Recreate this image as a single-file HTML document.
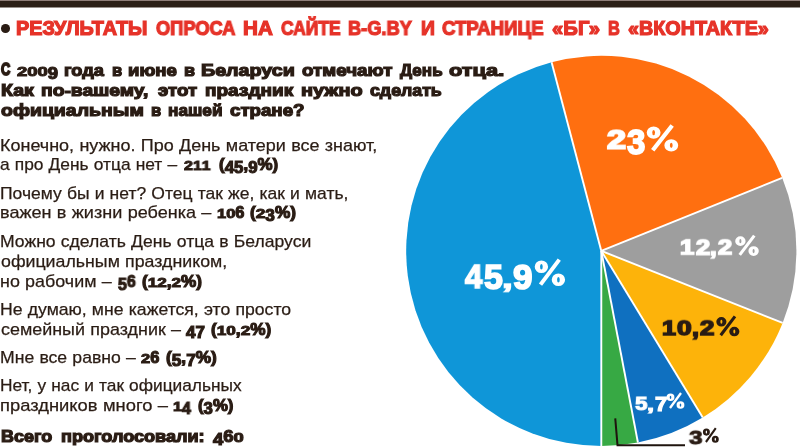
<!DOCTYPE html>
<html><head><meta charset="utf-8"><title>chart</title>
<style>
html,body{margin:0;padding:0;background:#fff;}
body{width:800px;height:447px;position:relative;overflow:hidden;font-family:"Liberation Sans",sans-serif;}
.bar{position:absolute;left:0;top:0;width:800px;height:8px;background:linear-gradient(to bottom,#8f7f7a 0,#8f7f7a 1px,#2c2118 1px,#2c2118 7px,#96908b 7px,#96908b 8px);}
.dot{position:absolute;left:1px;top:24.2px;width:8.8px;height:8.6px;border-radius:50%;background:#2a1c14;}
.pie{position:absolute;left:0;top:0;}
.t{position:absolute;white-space:nowrap;line-height:1;transform-origin:0 50%;will-change:transform;}
.t.g{transform-origin:0 0;}
.t i{font-style:normal;display:inline-block;transform-origin:50% 84.65%;}
.t i.ox{transform:scaleY(0.80);}
.t i.od{transform:translateY(0.17em) scaleY(0.97);}
</style></head><body>
<div class="bar"></div><div class="dot"></div>
<svg class="pie" width="800" height="447" viewBox="0 0 800 447"><path d="M601.3,250.9 L551.59,62.24 A195.1,195.1 0 0 1 782.19,177.81 Z" fill="#ff6f10"/><path d="M601.3,250.9 L782.19,177.81 A195.1,195.1 0 0 1 782.64,322.88 Z" fill="#9e9e9e"/><path d="M601.3,250.9 L782.64,322.88 A195.1,195.1 0 0 1 702.75,417.55 Z" fill="#fdb30a"/><path d="M601.3,250.9 L702.75,417.55 A195.1,195.1 0 0 1 637.92,442.53 Z" fill="#0f70c0"/><path d="M601.3,250.9 L637.92,442.53 A195.1,195.1 0 0 1 601.30,446.00 Z" fill="#37a944"/><path d="M601.3,250.9 L601.30,446.00 A195.1,195.1 0 0 1 551.59,62.24 Z" fill="#0f96d8"/><line x1="601.3" y1="250.9" x2="551.59" y2="62.24" stroke="#fff" stroke-width="1.9"/><line x1="601.3" y1="250.9" x2="782.19" y2="177.81" stroke="#fff" stroke-width="1.9"/><line x1="601.3" y1="250.9" x2="782.64" y2="322.88" stroke="#fff" stroke-width="1.9"/><line x1="601.3" y1="250.9" x2="702.75" y2="417.55" stroke="#fff" stroke-width="1.9"/><line x1="601.3" y1="250.9" x2="637.92" y2="442.53" stroke="#fff" stroke-width="1.9"/><line x1="601.3" y1="250.9" x2="601.30" y2="446.00" stroke="#fff" stroke-width="1.9"/><defs><path id="pc" fill-rule="evenodd" d="M0.0000,0.2970a0.2200,0.2310 0 1,0 0.4400,0a0.2200,0.2310 0 1,0 -0.4400,0ZM0.1760,0.2970a0.0440,0.0990 0 1,0 0.0880,0a0.0440,0.0990 0 1,0 -0.0880,0ZM0.5600,0.7690a0.2200,0.2310 0 1,0 0.4400,0a0.2200,0.2310 0 1,0 -0.4400,0ZM0.7360,0.7690a0.0440,0.0990 0 1,0 0.0880,0a0.0440,0.0990 0 1,0 -0.0880,0ZM0.8616,0.077L0.7564,-0.011L0.1384,0.905L0.2436,0.993Z"/></defs><use href="#pc" fill="#ffffff" transform="translate(534.70,258.70) scale(30.40,27.30)"/><use href="#pc" fill="#ffffff" transform="translate(646.70,124.60) scale(31.50,27.00)"/><use href="#pc" fill="#ffffff" transform="translate(735.20,234.90) scale(23.60,21.00)"/><use href="#pc" fill="#2a1c14" transform="translate(716.30,315.70) scale(23.10,20.60)"/><use href="#pc" fill="#ffffff" transform="translate(666.60,392.50) scale(17.80,16.30)"/><use href="#pc" fill="#2a1c14" transform="translate(702.90,427.60) scale(15.90,15.20)"/><polyline points="615.25,418.3 617.5,445.2 685,445.2" fill="none" stroke="#1f140e" stroke-width="2"/></svg>
<span class="t" id="t0" style="left:15.68px;top:19.00px;font-size:19.4px;color:#e63329;font-weight:bold;-webkit-text-stroke:1.2px #e63329;transform:scaleX(1.0220);">РЕЗУЛЬТАТЫ</span>
<span class="t" id="t1" style="left:155.77px;top:19.00px;font-size:19.4px;color:#e63329;font-weight:bold;-webkit-text-stroke:1.2px #e63329;transform:scaleX(0.9429);">ОПРОСА</span>
<span class="t" id="t2" style="left:242.72px;top:19.00px;font-size:19.4px;color:#e63329;font-weight:bold;-webkit-text-stroke:1.2px #e63329;transform:scaleX(1.0625);">НА</span>
<span class="t" id="t3" style="left:280.57px;top:19.00px;font-size:19.4px;color:#e63329;font-weight:bold;-webkit-text-stroke:1.2px #e63329;transform:scaleX(0.9010);">САЙТЕ</span>
<span class="t" id="t4" style="left:348.12px;top:19.00px;font-size:19.4px;color:#e63329;font-weight:bold;-webkit-text-stroke:1.2px #e63329;transform:scaleX(0.9399);">B-G.BY</span>
<span class="t" id="t5" style="left:421.30px;top:19.00px;font-size:19.4px;color:#e63329;font-weight:bold;-webkit-text-stroke:1.2px #e63329;transform:scaleX(1.0000);">И</span>
<span class="t" id="t6" style="left:442.09px;top:19.00px;font-size:19.4px;color:#e63329;font-weight:bold;-webkit-text-stroke:1.2px #e63329;transform:scaleX(0.9620);">СТРАНИЦЕ</span>
<span class="t" id="t7" style="left:551.63px;top:19.00px;font-size:19.4px;color:#e63329;font-weight:bold;-webkit-text-stroke:1.2px #e63329;transform:scaleX(1.0473);">«БГ»</span>
<span class="t" id="t8" style="left:607.88px;top:19.00px;font-size:19.4px;color:#e63329;font-weight:bold;-webkit-text-stroke:1.2px #e63329;transform:scaleX(0.8437);">В</span>
<span class="t" id="t9" style="left:627.98px;top:19.00px;font-size:19.4px;color:#e63329;font-weight:bold;-webkit-text-stroke:1.2px #e63329;transform:scaleX(1.0189);">«ВКОНТАКТЕ»</span>
<span class="t" id="t10" style="left:0.67px;top:61.00px;font-size:16.5px;color:#2a1c14;font-weight:bold;-webkit-text-stroke:1.8px #2a1c14;transform:scaleX(0.7757);">С</span>
<span class="t" id="t11" style="left:17.00px;top:62.00px;font-size:16.5px;color:#2a1c14;font-weight:bold;-webkit-text-stroke:1.2px #2a1c14;transform:scaleX(1.1196);"><i class="ox">2</i><i class="ox">0</i><i class="ox">0</i><i class="od">9</i></span>
<span class="t" id="t12" style="left:64.22px;top:62.00px;font-size:16.5px;color:#2a1c14;font-weight:bold;-webkit-text-stroke:1.2px #2a1c14;transform:scaleX(1.1013);">года</span>
<span class="t" id="t13" style="left:112.00px;top:62.00px;font-size:16.5px;color:#2a1c14;font-weight:bold;-webkit-text-stroke:1.2px #2a1c14;transform:scaleX(1.0000);">в</span>
<span class="t" id="t14" style="left:128.27px;top:62.00px;font-size:16.5px;color:#2a1c14;font-weight:bold;-webkit-text-stroke:1.2px #2a1c14;transform:scaleX(1.1265);">июне</span>
<span class="t" id="t15" style="left:183.89px;top:62.00px;font-size:16.5px;color:#2a1c14;font-weight:bold;-webkit-text-stroke:1.2px #2a1c14;transform:scaleX(1.0863);">в</span>
<span class="t" id="t16" style="left:201.16px;top:62.00px;font-size:16.5px;color:#2a1c14;font-weight:bold;-webkit-text-stroke:1.2px #2a1c14;transform:scaleX(1.1935);">Беларуси</span>
<span class="t" id="t17" style="left:301.59px;top:62.00px;font-size:16.5px;color:#2a1c14;font-weight:bold;-webkit-text-stroke:1.2px #2a1c14;transform:scaleX(1.1411);">отмечают</span>
<span class="t" id="t18" style="left:400.36px;top:62.00px;font-size:16.5px;color:#2a1c14;font-weight:bold;-webkit-text-stroke:1.2px #2a1c14;transform:scaleX(1.0335);">День</span>
<span class="t" id="t19" style="left:448.91px;top:62.00px;font-size:16.5px;color:#2a1c14;font-weight:bold;-webkit-text-stroke:1.2px #2a1c14;transform:scaleX(1.3182);">отца.</span>
<span class="t" id="t20" style="left:0.57px;top:82.00px;font-size:16.5px;color:#2a1c14;font-weight:bold;-webkit-text-stroke:1.2px #2a1c14;transform:scaleX(1.1882);">Как</span>
<span class="t" id="t21" style="left:41.35px;top:82.00px;font-size:16.5px;color:#2a1c14;font-weight:bold;-webkit-text-stroke:1.2px #2a1c14;transform:scaleX(1.1678);">по-вашему,</span>
<span class="t" id="t22" style="left:158.33px;top:82.00px;font-size:16.5px;color:#2a1c14;font-weight:bold;-webkit-text-stroke:1.2px #2a1c14;transform:scaleX(1.1306);">этот</span>
<span class="t" id="t23" style="left:205.27px;top:82.00px;font-size:16.5px;color:#2a1c14;font-weight:bold;-webkit-text-stroke:1.2px #2a1c14;transform:scaleX(1.1535);">праздник</span>
<span class="t" id="t24" style="left:301.26px;top:82.00px;font-size:16.5px;color:#2a1c14;font-weight:bold;-webkit-text-stroke:1.2px #2a1c14;transform:scaleX(1.2057);">нужно</span>
<span class="t" id="t25" style="left:370.41px;top:82.00px;font-size:16.5px;color:#2a1c14;font-weight:bold;-webkit-text-stroke:1.2px #2a1c14;transform:scaleX(1.0753);">сделать</span>
<span class="t" id="t26" style="left:0.91px;top:102.00px;font-size:16.5px;color:#2a1c14;font-weight:bold;-webkit-text-stroke:1.2px #2a1c14;transform:scaleX(1.1801);">официальным</span>
<span class="t" id="t27" style="left:151.20px;top:102.00px;font-size:16.5px;color:#2a1c14;font-weight:bold;-webkit-text-stroke:1.2px #2a1c14;transform:scaleX(1.0000);">в</span>
<span class="t" id="t28" style="left:168.44px;top:102.00px;font-size:16.5px;color:#2a1c14;font-weight:bold;-webkit-text-stroke:1.2px #2a1c14;transform:scaleX(1.0430);">нашей</span>
<span class="t" id="t29" style="left:229.92px;top:102.00px;font-size:16.5px;color:#2a1c14;font-weight:bold;-webkit-text-stroke:1.2px #2a1c14;transform:scaleX(1.1324);">стране?</span>
<span class="t" id="t30" style="left:-0.12px;top:137.00px;font-size:17px;color:#2a1c14;-webkit-text-stroke:0.25px #2a1c14;word-spacing:0.3px;transform:scaleX(1.0575);">Конечно, нужно. Про День матери все знают,</span>
<span class="t" id="t31" style="left:0.14px;top:156.00px;font-size:17px;color:#2a1c14;-webkit-text-stroke:0.25px #2a1c14;word-spacing:0.3px;transform:scaleX(1.0209);">а про День отца нет –</span>
<span class="t" id="t32" style="left:184.20px;top:156.00px;font-size:16.4px;color:#2a1c14;font-weight:bold;-webkit-text-stroke:1.15px #2a1c14;transform:scaleX(0.9685);"><i class="ox">2</i><i class="ox">1</i><i class="ox">1</i></span>
<span class="t" id="t33" style="left:218.77px;top:156.00px;font-size:16.4px;color:#2a1c14;font-weight:bold;-webkit-text-stroke:1.15px #2a1c14;transform:scaleX(1.0305);">(<i class="od">4</i><i class="od">5</i>,<i class="od">9</i>%)</span>
<span class="t" id="t34" style="left:-0.25px;top:185.00px;font-size:17px;color:#2a1c14;-webkit-text-stroke:0.25px #2a1c14;word-spacing:0.3px;transform:scaleX(1.0291);">Почему бы и нет? Отец так же, как и мать,</span>
<span class="t" id="t35" style="left:-0.09px;top:204.00px;font-size:17px;color:#2a1c14;-webkit-text-stroke:0.25px #2a1c14;word-spacing:0.3px;transform:scaleX(1.0622);">важен в жизни ребенка –</span>
<span class="t" id="t36" style="left:217.30px;top:204.00px;font-size:16.4px;color:#2a1c14;font-weight:bold;-webkit-text-stroke:1.15px #2a1c14;transform:scaleX(1.0000);"><i class="ox">1</i><i class="ox">0</i>6</span>
<span class="t" id="t37" style="left:249.96px;top:204.00px;font-size:16.4px;color:#2a1c14;font-weight:bold;-webkit-text-stroke:1.15px #2a1c14;transform:scaleX(1.0518);">(<i class="ox">2</i><i class="od">3</i>%)</span>
<span class="t" id="t38" style="left:-0.47px;top:233.00px;font-size:17px;color:#2a1c14;-webkit-text-stroke:0.25px #2a1c14;word-spacing:0.3px;transform:scaleX(1.0336);">Можно сделать День отца в Беларуси</span>
<span class="t" id="t39" style="left:0.61px;top:253.00px;font-size:17px;color:#2a1c14;-webkit-text-stroke:0.25px #2a1c14;word-spacing:0.3px;transform:scaleX(1.0453);">официальным праздником,</span>
<span class="t" id="t40" style="left:-0.17px;top:273.00px;font-size:17px;color:#2a1c14;-webkit-text-stroke:0.25px #2a1c14;word-spacing:0.3px;transform:scaleX(1.0524);">но рабочим –</span>
<span class="t" id="t41" style="left:118.14px;top:273.00px;font-size:16.4px;color:#2a1c14;font-weight:bold;-webkit-text-stroke:1.15px #2a1c14;transform:scaleX(0.9648);"><i class="od">5</i>6</span>
<span class="t" id="t42" style="left:141.52px;top:273.00px;font-size:16.4px;color:#2a1c14;font-weight:bold;-webkit-text-stroke:1.15px #2a1c14;transform:scaleX(1.0446);">(<i class="ox">1</i><i class="ox">2</i>,<i class="ox">2</i>%)</span>
<span class="t" id="t43" style="left:-0.48px;top:301.00px;font-size:17px;color:#2a1c14;-webkit-text-stroke:0.25px #2a1c14;word-spacing:0.3px;transform:scaleX(1.0367);">Не думаю, мне кажется, это просто</span>
<span class="t" id="t44" style="left:0.64px;top:321.00px;font-size:17px;color:#2a1c14;-webkit-text-stroke:0.25px #2a1c14;word-spacing:0.3px;transform:scaleX(1.0539);">семейный праздник –</span>
<span class="t" id="t45" style="left:186.38px;top:321.00px;font-size:16.4px;color:#2a1c14;font-weight:bold;-webkit-text-stroke:1.15px #2a1c14;transform:scaleX(1.0367);"><i class="od">4</i><i class="od">7</i></span>
<span class="t" id="t46" style="left:210.67px;top:321.00px;font-size:16.4px;color:#2a1c14;font-weight:bold;-webkit-text-stroke:1.15px #2a1c14;transform:scaleX(1.0486);">(<i class="ox">1</i><i class="ox">0</i>,<i class="ox">2</i>%)</span>
<span class="t" id="t47" style="left:-0.10px;top:349.00px;font-size:17px;color:#2a1c14;-webkit-text-stroke:0.25px #2a1c14;word-spacing:0.3px;transform:scaleX(1.0357);">Мне все равно –</span>
<span class="t" id="t48" style="left:141.00px;top:349.00px;font-size:16.4px;color:#2a1c14;font-weight:bold;-webkit-text-stroke:1.15px #2a1c14;transform:scaleX(1.0030);"><i class="ox">2</i>6</span>
<span class="t" id="t49" style="left:165.56px;top:349.00px;font-size:16.4px;color:#2a1c14;font-weight:bold;-webkit-text-stroke:1.15px #2a1c14;transform:scaleX(1.0519);">(<i class="od">5</i>,<i class="od">7</i>%)</span>
<span class="t" id="t50" style="left:-0.08px;top:377.00px;font-size:17px;color:#2a1c14;-webkit-text-stroke:0.25px #2a1c14;word-spacing:0.3px;transform:scaleX(1.0186);">Нет, у нас и так официальных</span>
<span class="t" id="t51" style="left:-0.26px;top:397.00px;font-size:17px;color:#2a1c14;-webkit-text-stroke:0.25px #2a1c14;word-spacing:0.3px;transform:scaleX(1.0804);">праздников много –</span>
<span class="t" id="t52" style="left:173.34px;top:397.00px;font-size:16.4px;color:#2a1c14;font-weight:bold;-webkit-text-stroke:1.15px #2a1c14;transform:scaleX(0.9730);"><i class="ox">1</i><i class="od">4</i></span>
<span class="t" id="t53" style="left:197.77px;top:397.00px;font-size:16.4px;color:#2a1c14;font-weight:bold;-webkit-text-stroke:1.15px #2a1c14;transform:scaleX(1.0233);">(<i class="od">3</i>%)</span>
<span class="t" id="t54" style="left:0.63px;top:428.00px;font-size:16.5px;color:#2a1c14;font-weight:bold;-webkit-text-stroke:1.2px #2a1c14;transform:scaleX(1.0871);">Всего</span>
<span class="t" id="t55" style="left:60.56px;top:428.00px;font-size:16.5px;color:#2a1c14;font-weight:bold;-webkit-text-stroke:1.2px #2a1c14;transform:scaleX(1.0961);">проголосовали:</span>
<span class="t" id="t56" style="left:213.27px;top:428.00px;font-size:16.5px;color:#2a1c14;font-weight:bold;-webkit-text-stroke:1.2px #2a1c14;transform:scaleX(1.1147);"><i class="od">4</i>6<i class="ox">0</i></span>
<span class="t g" id="t57" style="left:464.51px;top:260.37px;font-size:32px;color:#ffffff;font-weight:bold;-webkit-text-stroke:1.6px #ffffff;transform:scale(0.9761,1.0393);">4</span>
<span class="t g" id="t58" style="left:484.26px;top:260.10px;font-size:32px;color:#ffffff;font-weight:bold;-webkit-text-stroke:1.6px #ffffff;transform:scale(1.0608,1.0771);">5</span>
<span class="t g" id="t59" style="left:501.69px;top:266.04px;font-size:32px;color:#ffffff;font-weight:bold;-webkit-text-stroke:1.6px #ffffff;transform:scale(1.2078,0.8015);">,</span>
<span class="t g" id="t60" style="left:512.83px;top:260.14px;font-size:32px;color:#ffffff;font-weight:bold;-webkit-text-stroke:1.6px #ffffff;transform:scale(1.0927,1.0911);">9</span>
<span class="t g" id="t61" style="left:606.90px;top:125.56px;font-size:32px;color:#ffffff;font-weight:bold;-webkit-text-stroke:2.2px #ffffff;transform:scale(1.0722,0.8405);">2</span>
<span class="t g" id="t62" style="left:627.42px;top:124.27px;font-size:32px;color:#ffffff;font-weight:bold;-webkit-text-stroke:1.6px #ffffff;transform:scale(1.0325,1.1075);">3</span>
<span class="t g" id="t63" style="left:680.35px;top:237.44px;font-size:24px;color:#ffffff;font-weight:bold;-webkit-text-stroke:1.7px #ffffff;transform:scale(1.0697,0.8694);">1</span>
<span class="t g" id="t64" style="left:695.59px;top:237.15px;font-size:24px;color:#ffffff;font-weight:bold;-webkit-text-stroke:1.7px #ffffff;transform:scale(1.0653,0.8836);">2</span>
<span class="t g" id="t65" style="left:710.31px;top:236.75px;font-size:24px;color:#ffffff;font-weight:bold;-webkit-text-stroke:1.7px #ffffff;transform:scale(0.9929,0.8973);">,</span>
<span class="t g" id="t66" style="left:717.92px;top:237.41px;font-size:24px;color:#ffffff;font-weight:bold;-webkit-text-stroke:1.7px #ffffff;transform:scale(1.0661,0.8687);">2</span>
<span class="t g" id="t67" style="left:661.52px;top:317.65px;font-size:24px;color:#2a1c14;font-weight:bold;-webkit-text-stroke:1.7px #2a1c14;transform:scale(1.0491,0.8518);">1</span>
<span class="t g" id="t68" style="left:676.62px;top:317.83px;font-size:24px;color:#2a1c14;font-weight:bold;-webkit-text-stroke:1.7px #2a1c14;transform:scale(1.1021,0.8529);">0</span>
<span class="t g" id="t69" style="left:692.16px;top:316.59px;font-size:24px;color:#2a1c14;font-weight:bold;-webkit-text-stroke:1.7px #2a1c14;transform:scale(1.0471,0.9377);">,</span>
<span class="t g" id="t70" style="left:699.78px;top:317.86px;font-size:24px;color:#2a1c14;font-weight:bold;-webkit-text-stroke:1.7px #2a1c14;transform:scale(1.0828,0.8522);">2</span>
<span class="t g" id="t71" style="left:634.76px;top:394.47px;font-size:19px;color:#ffffff;font-weight:bold;-webkit-text-stroke:1.1px #ffffff;transform:scale(1.1661,0.9922);">5</span>
<span class="t g" id="t72" style="left:647.05px;top:396.43px;font-size:19px;color:#ffffff;font-weight:bold;-webkit-text-stroke:1.1px #ffffff;transform:scale(1.3367,0.8985);">,</span>
<span class="t g" id="t73" style="left:654.73px;top:394.48px;font-size:19px;color:#ffffff;font-weight:bold;-webkit-text-stroke:1.1px #ffffff;transform:scale(1.1645,1.0586);">7</span>
<span class="t g" id="t74" style="left:688.86px;top:427.54px;font-size:20px;color:#2a1c14;font-weight:bold;-webkit-text-stroke:1.0px #2a1c14;transform:scale(1.2138,0.9478);">3</span>
</body></html>
